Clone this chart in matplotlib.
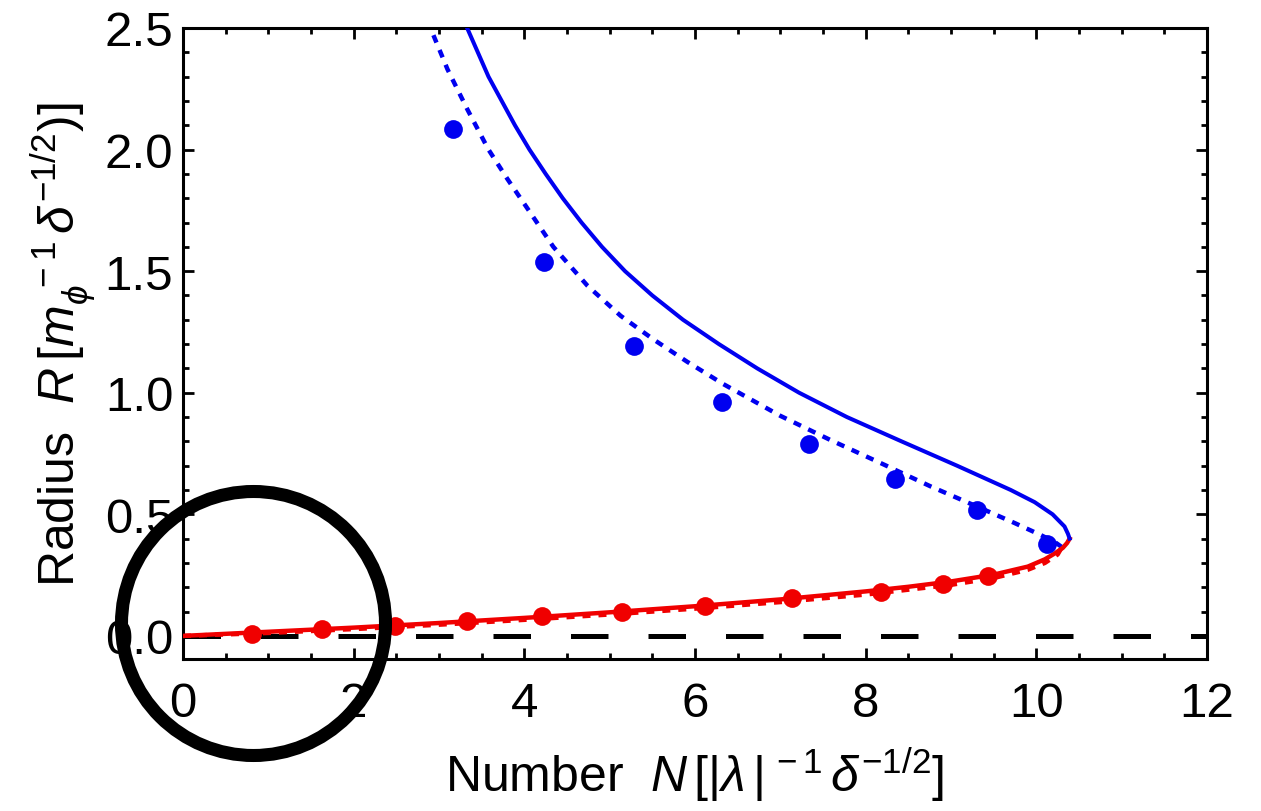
import matplotlib
matplotlib.use("Agg")
import matplotlib.pyplot as plt
from matplotlib.patches import Ellipse
from matplotlib.ticker import MultipleLocator

plt.rcParams["font.family"] = ["Liberation Sans", "DejaVu Sans"]
plt.rcParams["mathtext.fontset"] = "custom"
plt.rcParams["mathtext.rm"] = "Liberation Sans"
plt.rcParams["mathtext.it"] = "Liberation Sans:italic"

# simulated points
blue_dots_N = [3.17, 4.23, 5.28, 6.32, 7.34, 8.34, 9.30, 10.12]
blue_dots_R = [2.085, 1.538, 1.192, 0.962, 0.789, 0.646, 0.518, 0.378]
red_dots_N = [0.81, 1.63, 2.48, 3.33, 4.21, 5.15, 6.12, 7.14, 8.18, 8.91, 9.43]
red_dots_R = [0.008, 0.029, 0.041, 0.062, 0.082, 0.099, 0.123, 0.155, 0.181, 0.212, 0.245]

# solid curve, lower (red) and upper (blue) branch
red_solid_N = [0, 1, 2, 3, 4, 5, 6, 7, 8, 8.5, 9, 9.5, 9.9, 10.1, 10.22, 10.31, 10.36, 10.39]
red_solid_R = [0, 0.017, 0.034, 0.053, 0.074, 0.097, 0.122, 0.150, 0.183, 0.202,
               0.224, 0.252, 0.285, 0.315, 0.340, 0.362, 0.382, 0.400]
blue_solid_N = [10.39, 10.37, 10.33, 10.19, 9.98, 9.70, 9.07, 8.42, 7.78, 7.22, 6.73,
                6.28, 5.86, 5.50, 5.18, 4.91, 4.67, 4.45, 4.25, 4.06, 3.89, 3.58, 3.33]
blue_solid_R = [0.40, 0.42, 0.45, 0.50, 0.55, 0.60, 0.70, 0.80, 0.90, 1.00, 1.10,
                1.20, 1.30, 1.40, 1.50, 1.60, 1.70, 1.80, 1.90, 2.00, 2.10, 2.30, 2.50]

# dotted curve
red_dot_line_N = [0, 1, 2, 3, 4, 5, 6, 7, 8, 9, 9.5, 9.9, 10.1, 10.25, 10.30]
red_dot_line_R = [0, 0.012, 0.028, 0.046, 0.066, 0.088, 0.112, 0.139, 0.170, 0.210,
                  0.238, 0.272, 0.300, 0.335, 0.365]
blue_dot_line_N = [10.30, 10.22, 10.05, 9.74, 9.35, 8.76, 8.18, 7.59, 7.00, 6.33, 5.91,
                   5.51, 5.13, 4.74, 4.34, 4.04, 3.80, 3.58, 3.33, 3.10, 2.90]
blue_dot_line_R = [0.365, 0.385, 0.415, 0.465, 0.525, 0.615, 0.710, 0.805, 0.905, 1.036,
                   1.127, 1.220, 1.316, 1.440, 1.600, 1.756, 1.880, 2.000, 2.167, 2.330, 2.500]

BLUE = "#0000f0"
RED = "#f00000"

fig = plt.figure(figsize=(12.61, 8.12), dpi=100)
ax = fig.add_axes([0.1451, 0.1872, 0.8121, 0.7771])

ax.axhline(0, color="black", lw=3.6, dashes=(7.5, 8), zorder=1)

dot_style = (0, (1.8, 1.8))
ax.plot(red_dot_line_N, red_dot_line_R, color=RED, lw=3.2, linestyle=dot_style, zorder=2)
ax.plot(blue_dot_line_N, blue_dot_line_R, color=BLUE, lw=3.2, linestyle=dot_style, zorder=2)
ax.plot(red_solid_N, red_solid_R, color=RED, lw=3.2, zorder=3, solid_joinstyle="round")
ax.plot(blue_solid_N, blue_solid_R, color=BLUE, lw=2.9, zorder=3, solid_joinstyle="round")

ax.plot(blue_dots_N, blue_dots_R, "o", color=BLUE, ms=13.5, mew=0, zorder=4)
ax.plot(red_dots_N, red_dots_R, "o", color=RED, ms=13.5, mew=0, zorder=4)

ax.set_xlim(0, 12)
ax.set_ylim(-0.095, 2.5)
ax.xaxis.set_major_locator(MultipleLocator(2))
ax.xaxis.set_minor_locator(MultipleLocator(0.5))
ax.yaxis.set_major_locator(MultipleLocator(0.5))
ax.yaxis.set_minor_locator(MultipleLocator(0.1))
ax.yaxis.set_major_formatter(plt.FormatStrFormatter("%.1f"))
ax.tick_params(which="both", direction="in", top=True, right=True, width=2, labelsize=35.5)
ax.tick_params(which="major", length=8)
ax.tick_params(which="minor", length=4.3)
ax.tick_params(axis="x", pad=16)
ax.tick_params(axis="y", pad=7)
for s in ax.spines.values():
    s.set_linewidth(2.2)

ax.set_xlabel(r"Number  $N\,[|\lambda\,|^{\,-1}\,\delta^{-1/2}]$", fontsize=36, labelpad=13)
ax.set_ylabel(r"Radius  $R\,[m_\phi^{\ -1}\,\delta^{-1/2})]$", fontsize=36, labelpad=4)

# highlight circle drawn over the figure
circ = Ellipse((253.5 / 1261, 1 - 624.5 / 812), 2 * 132 / 1261, 2 * 132 / 812,
               transform=fig.transFigure, fill=False, edgecolor="black", lw=9.4,
               clip_on=False, zorder=10)
fig.add_artist(circ)

fig.savefig("out.png", dpi=100)
